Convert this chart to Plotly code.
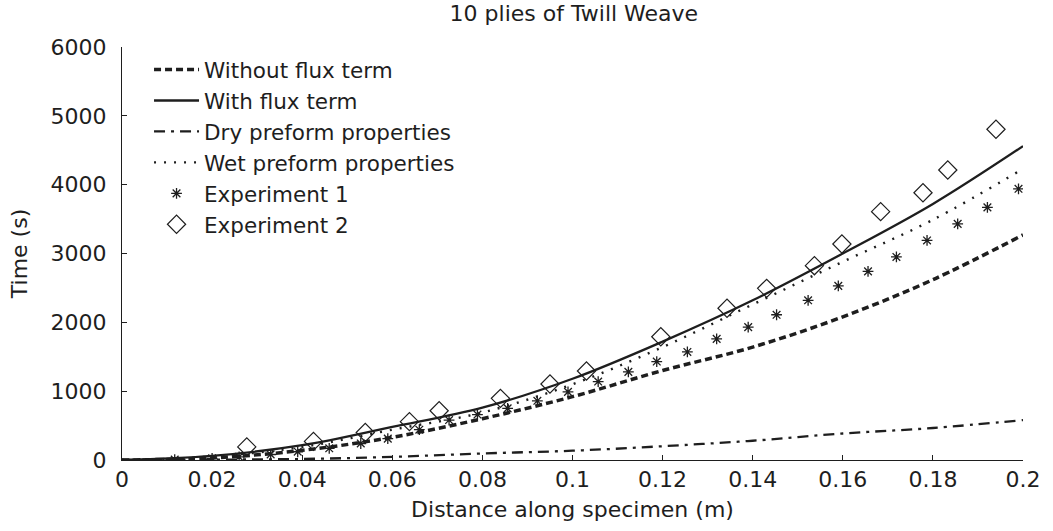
import plotly.graph_objects as go

# Model curves (sampled every 0.02 m)
x_model = [0, 0.02, 0.04, 0.06, 0.08, 0.10, 0.12, 0.14, 0.16, 0.18, 0.20]
t_without_flux = [0, 30, 140, 330, 600, 920, 1300, 1640, 2080, 2620, 3270]
t_with_flux = [0, 60, 215, 480, 760, 1180, 1720, 2320, 3000, 3720, 4560]
t_dry = [0, 5, 15, 45, 95, 135, 200, 280, 385, 465, 580]
t_wet = [0, 50, 190, 440, 690, 1100, 1640, 2260, 2880, 3490, 4230]

# Experiment 1
x_exp1 = [0.0117, 0.020, 0.026, 0.033, 0.039, 0.046, 0.053, 0.059, 0.066, 0.0726,
          0.0789, 0.0856, 0.0922, 0.099, 0.1057, 0.1124, 0.1187, 0.1255, 0.132,
          0.139, 0.1453, 0.1523, 0.159, 0.1656, 0.1719, 0.1787, 0.1855, 0.1921, 0.199]
t_exp1 = [5, 25, 45, 80, 120, 170, 240, 310, 440, 580,
          660, 750, 860, 990, 1140, 1280, 1430, 1570, 1760,
          1930, 2110, 2320, 2530, 2740, 2950, 3190, 3430, 3670, 3940]

# Experiment 2
x_exp2 = [0.0277, 0.0425, 0.054, 0.0638, 0.0704, 0.084, 0.095, 0.1031, 0.1196,
          0.1343, 0.1431, 0.1537, 0.1598, 0.1684, 0.1778, 0.1833, 0.194]
t_exp2 = [190, 270, 400, 557, 716, 896, 1104, 1293, 1791,
          2204, 2494, 2823, 3138, 3608, 3883, 4213, 4805]

x_ticks = [0, 0.02, 0.04, 0.06, 0.08, 0.1, 0.12, 0.14, 0.16, 0.18, 0.2]
x_ticklabels = ["0", "0.02", "0.04", "0.06", "0.08", "0.1", "0.12", "0.14", "0.16", "0.18", "0.2"]
y_ticks = [0, 1000, 2000, 3000, 4000, 5000, 6000]

FONT = "DejaVu Sans, Liberation Sans, sans-serif"
INK = "#1e1e1e"

fig = go.Figure()
fig.add_trace(go.Scatter(x=x_model, y=t_without_flux, mode="lines", name="Without flux term",
                         line=dict(color=INK, width=3.5, dash="7px,4px", shape="spline")))
fig.add_trace(go.Scatter(x=x_model, y=t_with_flux, mode="lines", name="With flux term",
                         line=dict(color=INK, width=2.3, shape="spline")))
fig.add_trace(go.Scatter(x=x_model, y=t_dry, mode="lines", name="Dry preform properties",
                         line=dict(color=INK, width=2.3, dash="11px,6px,3px,6px", shape="spline")))
fig.add_trace(go.Scatter(x=x_model, y=t_wet, mode="lines", name="Wet preform properties",
                         line=dict(color=INK, width=2.4, dash="2px,8px", shape="spline")))
fig.add_trace(go.Scatter(x=x_exp1, y=t_exp1, mode="markers", name="Experiment 1",
                         marker=dict(symbol="asterisk-open", size=9, color=INK,
                                     line=dict(color=INK, width=1.3))))
fig.add_trace(go.Scatter(x=x_exp2, y=t_exp2, mode="markers", name="Experiment 2",
                         marker=dict(symbol="diamond-open", size=14, color=INK,
                                     line=dict(color=INK, width=1.2))))

fig.update_layout(
    width=1053, height=531,
    margin=dict(l=122, r=23, t=47, b=71),
    paper_bgcolor="white", plot_bgcolor="white",
    font=dict(family=FONT, size=22, color=INK),
    title=dict(text="10 plies of Twill Weave", x=0.545, xanchor="center", y=0.99, yanchor="top",
               font=dict(size=22, family=FONT, color=INK)),
    showlegend=True,
    legend=dict(x=0.03, y=0.995, xanchor="left", yanchor="top", bgcolor="rgba(0,0,0,0)",
                font=dict(size=21.5, family=FONT, color=INK), tracegroupgap=0,
                itemwidth=45),
    xaxis=dict(range=[0, 0.2], tickvals=x_ticks, ticktext=x_ticklabels,
               showgrid=False, zeroline=False, showline=True, linecolor=INK, linewidth=1,
               ticks="inside", ticklen=5, tickcolor=INK,
               title=dict(text="Distance along specimen (m)", standoff=10,
                          font=dict(size=22, family=FONT, color=INK))),
    yaxis=dict(range=[0, 6000], tickvals=y_ticks,
               showgrid=False, zeroline=False, showline=True, linecolor=INK, linewidth=1,
               ticks="inside", ticklen=5, tickcolor=INK, ticklabelstandoff=10,
               title=dict(text="Time (s)", standoff=16,
                          font=dict(size=22, family=FONT, color=INK))),
)

fig.write_html("out.html")
